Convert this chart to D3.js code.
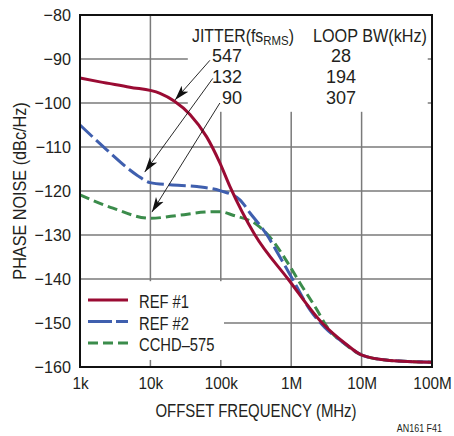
<!DOCTYPE html>
<html>
<head>
<meta charset="utf-8">
<script src="https://cdn.jsdelivr.net/npm/d3@7"></script>
<style>
  body { margin: 0; background: #fff; }
  text { font-family: "Liberation Sans", Arial, sans-serif; fill: #231f20; }
</style>
</head>
<body>
<div id="chart"></div>
<script>
// offset frequency (Hz) and phase noise (dBc/Hz)
const ref1Freq = [1e3, 1.92e3, 5.1e3, 13.7e3, 22e3, 36.5e3, 63e3, 97e3, 135e3, 306e3, 902e3, 2.75e6, 5.8e6, 10.1e6, 25e6, 100e6];
const ref1Noise = [-94.3, -95.2, -96.4, -97.8, -99.6, -102.6, -107.7, -113.6, -119, -130, -140, -150, -154.6, -157.3, -158.5, -158.9];

const ref2Freq = [1e3, 2.42e3, 6.45e3, 9.86e3, 19e3, 45.8e3, 97e3, 187e3, 260e3, 453e3, 692e3, 1.06e6, 1.85e6, 3e6, 5.8e6, 10.1e6, 25e6, 100e6];
const ref2Noise = [-105, -110.7, -116.4, -118.1, -118.6, -119, -119.9, -122, -125, -130, -135, -140.2, -147, -151, -154.7, -157.3, -158.5, -158.9];

const cchdFreq = [1e3, 2.94e3, 9.86e3, 26e3, 59.7e3, 97e3, 149e3, 327e3, 500e3, 875e3, 1.33e6, 2.32e6, 3.23e6, 5.8e6, 10.1e6, 25e6, 100e6];
const cchdNoise = [-120.9, -123.9, -126.2, -125.5, -124.8, -124.7, -125.5, -127.7, -130.5, -136.1, -140.9, -147, -150.9, -154.8, -157.3, -158.5, -158.9];

const seriesNames = ['REF #1', 'REF #2', 'CCHD\u2013575'];
const xTicks = [1e3, 1e4, 1e5, 1e6, 1e7, 1e8];
const xTickLabels = ['1k', '10k', '100k', '1M', '10M', '100M'];
const yTicks = [-80, -90, -100, -110, -120, -130, -140, -150, -160];

const jitterVals = ['547', '132', '90'];
const loopBwVals = ['28', '194', '307'];
// arrows: [tail freq, tail dB, head freq, head dB]
const arrows = [
  [70e3, -90.3, 22.4e3, -99.3],
  [77e3, -94.4, 8.3e3, -115.7],
  [97e3, -100, 10.5e3, -124.8]
];

const width = 454, height = 436;
const margin = {top: 15, right: 22, bottom: 69, left: 80};
const w = width - margin.left - margin.right;
const h = height - margin.top - margin.bottom;

// squeeze text horizontally to imitate the condensed face of the original
function condense(sel, k) {
  sel.each(function() {
    const len = this.getComputedTextLength();
    d3.select(this).attr('textLength', len * k).attr('lengthAdjust', 'spacingAndGlyphs');
  });
}

const svg = d3.select('#chart').append('svg')
  .attr('width', width)
  .attr('height', height);

const g = svg.append('g')
  .attr('transform', `translate(${margin.left},${margin.top})`);

const x = d3.scaleLog().domain([1e3, 1e8]).range([0, w]);
const y = d3.scaleLinear().domain([-160, -80]).range([h, 0]);

// grid
g.append('g')
  .selectAll('line')
  .data(xTicks.slice(1, -1))
  .join('line')
  .attr('x1', d => x(d)).attr('x2', d => x(d))
  .attr('y1', 0).attr('y2', h)
  .attr('stroke', '#7a7a7a').attr('stroke-width', 1.5);

g.append('g')
  .selectAll('line')
  .data(yTicks.slice(1, -1))
  .join('line')
  .attr('x1', 0).attr('x2', w)
  .attr('y1', d => y(d)).attr('y2', d => y(d))
  .attr('stroke', '#7a7a7a').attr('stroke-width', 1.5);

// white areas behind the annotation text and the legend
g.append('rect')
  .attr('x', x(34e3)).attr('y', 1)
  .attr('width', x(8.7e7) - x(34e3)).attr('height', y(-102) - 1)
  .attr('fill', '#fff');
g.append('rect')
  .attr('x', 1).attr('y', y(-140.5))
  .attr('width', x(111e3) - 1).attr('height', y(-158.4) - y(-140.5))
  .attr('fill', '#fff');

// curves
const line = d3.line()
  .x(d => x(d[0]))
  .y(d => y(d[1]))
  .curve(d3.curveMonotoneX);

const series = [
  {freq: cchdFreq, noise: cchdNoise, color: '#3b8c4b', dash: '10,5'},
  {freq: ref2Freq, noise: ref2Noise, color: '#3f5fae', dash: '17,5'},
  {freq: ref1Freq, noise: ref1Noise, color: '#9a0b33', dash: null}
];

series.forEach(s => {
  g.append('path')
    .datum(d3.zip(s.freq, s.noise))
    .attr('d', line)
    .attr('fill', 'none')
    .attr('stroke', s.color)
    .attr('stroke-width', 3)
    .attr('stroke-dasharray', s.dash);
});

// frame
g.append('rect')
  .attr('width', w).attr('height', h)
  .attr('fill', 'none')
  .attr('stroke', '#111').attr('stroke-width', 2);

// axes
const xAxis = g.append('g')
  .attr('transform', `translate(0,${h})`)
  .call(d3.axisBottom(x).tickValues(xTicks).tickFormat((d, i) => xTickLabels[i]).tickSize(0).tickPadding(10));
const yAxis = g.append('g')
  .call(d3.axisLeft(y).tickValues(yTicks).tickFormat(d => '\u2212' + Math.abs(d)).tickSize(0).tickPadding(9));
[xAxis, yAxis].forEach(a => {
  a.select('.domain').remove();
  a.selectAll('text').attr('font-size', 17).attr('fill', '#231f20')
    .attr('font-family', '"Liberation Sans", Arial, sans-serif');
});
condense(xAxis.selectAll('text'), 0.9);
condense(yAxis.selectAll('text'), 0.95);

// axis titles
svg.append('text')
  .attr('x', margin.left + w / 2).attr('y', 417)
  .attr('text-anchor', 'middle').attr('font-size', 18)
  .text('OFFSET FREQUENCY (MHz)')
  .call(condense, 0.83);
svg.append('text')
  .attr('transform', `translate(26,${margin.top + h / 2}) rotate(-90)`)
  .attr('text-anchor', 'middle').attr('font-size', 18)
  .text('PHASE NOISE (dBc/Hz)')
  .call(condense, 0.9);

// annotation table
const head = g.append('text')
  .attr('x', 192 - margin.left).attr('y', 42 - margin.top)
  .attr('font-size', 18);
head.append('tspan').text('JITTER(fs');
head.append('tspan').attr('font-size', 13).attr('dy', 3).text('RMS');
head.append('tspan').attr('dy', -3).text(')');
condense(head, 0.88);
g.append('text')
  .attr('x', 427 - margin.left).attr('y', 42 - margin.top)
  .attr('text-anchor', 'end').attr('font-size', 18)
  .text('LOOP BW(kHz)')
  .call(condense, 0.9);

g.selectAll('text.jit')
  .data(jitterVals)
  .join('text')
  .attr('class', 'jit')
  .attr('x', 242 - margin.left)
  .attr('y', (d, i) => 62 - margin.top + i * 21)
  .attr('text-anchor', 'end').attr('font-size', 18)
  .text(d => d);
g.selectAll('text.bw')
  .data(loopBwVals)
  .join('text')
  .attr('class', 'bw')
  .attr('x', 341 - margin.left)
  .attr('y', (d, i) => 62 - margin.top + i * 21)
  .attr('text-anchor', 'middle').attr('font-size', 18)
  .text(d => d);

// arrows
svg.append('defs').append('marker')
  .attr('id', 'head')
  .attr('viewBox', '0 0 10 10')
  .attr('refX', 10).attr('refY', 5)
  .attr('markerWidth', 15).attr('markerHeight', 15)
  .attr('markerUnits', 'userSpaceOnUse')
  .attr('orient', 'auto')
  .append('path')
  .attr('d', 'M0,2L10,5L0,8L2.5,5Z')
  .attr('fill', '#111');

g.selectAll('line.arrow')
  .data(arrows)
  .join('line')
  .attr('class', 'arrow')
  .attr('x1', d => x(d[0])).attr('y1', d => y(d[1]))
  .attr('x2', d => x(d[2])).attr('y2', d => y(d[3]))
  .attr('stroke', '#111').attr('stroke-width', 0.9)
  .attr('marker-end', 'url(#head)');

// legend
const legend = g.append('g');
const legendItems = [series[2], series[1], series[0]];
legendItems.forEach((s, i) => {
  const ly = 300 - margin.top + i * 21.5;
  legend.append('line')
    .attr('x1', 88 - margin.left).attr('x2', 128 - margin.left)
    .attr('y1', ly).attr('y2', ly)
    .attr('stroke', s.color).attr('stroke-width', 3)
    .attr('stroke-dasharray', i === 1 ? '24,4' : i === 2 ? '10,5' : null);
  legend.append('text')
    .attr('x', 139 - margin.left).attr('y', ly + 8)
    .attr('font-size', 18)
    .text(seriesNames[i])
    .call(condense, 0.82);
});

svg.append('text')
  .attr('x', 442).attr('y', 432)
  .attr('text-anchor', 'end').attr('font-size', 10.5)
  .text('AN161 F41')
  .call(condense, 0.85);
</script>
</body>
</html>
